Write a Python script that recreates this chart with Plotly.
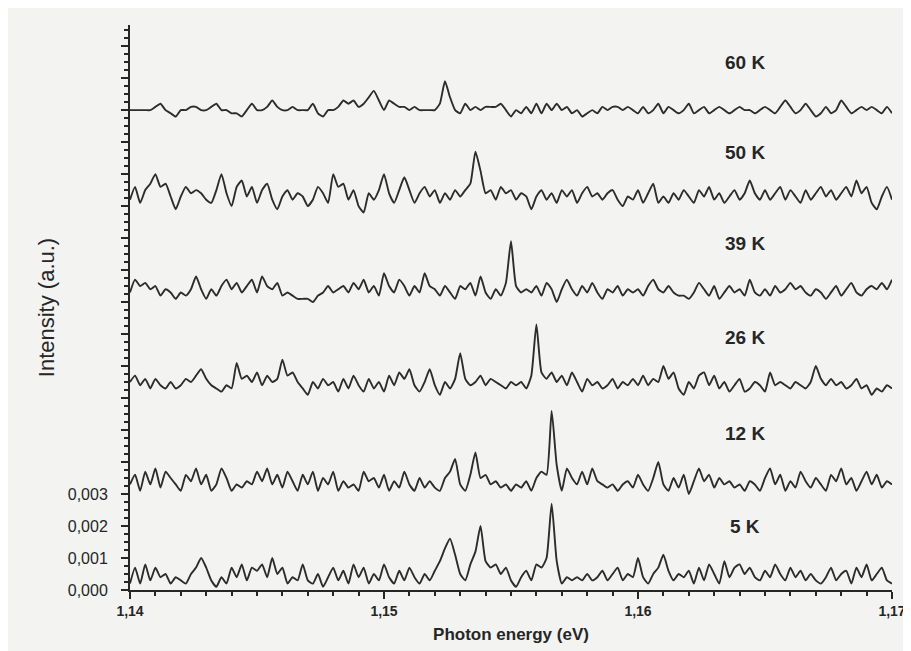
import numpy as np
import plotly.graph_objects as go

# Photon energy grid (eV), step 0.0002 eV
energy = np.round(1.14 + 0.0002 * np.arange(151), 4)

# Intensities in units of 1e-4 a.u. (curves vertically offset as in the figure)
i_60K = [150,150,150,150,150,151,152,150,149,148,150,150,151,151,150,150,151,152,150,150,
         149,149,148,150,152,150,150,151,153,151,150,150,151,150,150,150,152,149,148,150,
         150,151,153,152,153,151,152,154,156,153,150,153,152,151,151,150,151,150,150,150,
         150,152,159,154,150,149,152,150,151,150,151,151,151,152,150,148,150,149,151,149,
         152,149,152,150,152,150,151,149,150,148,149,150,149,151,150,151,151,150,151,150,
         149,151,149,150,152,149,151,150,149,150,152,149,150,151,149,150,151,150,149,150,
         151,150,150,149,150,151,150,149,151,153,151,149,150,152,150,148,149,151,149,150,
         153,151,149,150,151,150,151,150,149,151,149]
i_50K = [122,126,121,125,127,130,126,127,123,119,123,126,124,125,124,122,121,125,130,124,
         120,126,128,123,126,121,125,127,122,119,123,125,122,124,123,120,122,126,124,121,
         130,126,127,122,125,120,118,124,122,125,130,124,121,125,129,125,121,124,126,123,
         125,121,124,122,125,123,125,127,137,131,124,125,122,126,124,125,122,124,123,119,
         123,125,122,124,121,125,123,125,121,124,126,123,124,122,124,125,122,120,123,122,
         125,121,124,127,121,123,121,124,122,125,123,121,125,123,126,122,124,121,123,125,
         122,124,128,124,122,125,122,124,126,122,125,123,121,125,122,124,126,123,125,122,
         124,126,123,128,124,126,121,119,123,126,122]
i_39K = [93,97,95,96,94,95,92,94,93,91,93,92,94,98,94,91,94,92,95,97,
         94,96,93,95,97,93,98,95,94,96,92,93,92,91,91,91,90,92,93,95,
         93,94,95,93,96,94,97,93,95,92,99,95,93,97,95,92,95,93,99,95,
         94,92,95,93,91,95,94,96,92,98,93,91,94,92,96,109,95,93,94,93,
         95,92,96,94,90,94,97,94,92,95,93,96,93,91,94,93,95,92,94,93,
         94,92,95,97,94,93,95,93,92,92,91,93,96,94,92,95,91,93,95,93,
         94,92,97,93,92,94,92,95,93,94,96,94,95,93,92,94,93,91,93,95,
         92,94,96,93,92,94,95,94,96,94,97]
i_26K = [65,67,64,66,63,66,64,63,65,63,64,66,65,67,69,66,64,63,62,64,
         63,71,66,67,65,68,64,67,65,66,72,67,68,65,63,61,65,63,66,64,
         65,62,66,63,67,64,62,66,63,65,62,67,64,68,66,69,64,62,65,69,
         64,61,65,63,66,74,66,64,65,67,64,66,65,64,63,65,64,65,63,67,
         83,68,66,68,65,67,64,68,65,62,66,64,65,63,64,66,63,65,64,66,
         64,67,64,66,65,70,66,68,63,61,65,63,67,68,64,67,63,65,62,64,
         66,62,63,65,64,62,68,64,65,64,63,65,64,63,65,70,66,64,66,64,
         65,63,64,66,63,64,61,63,62,64,63]
i_12K = [33,36,31,37,33,38,32,37,35,33,31,36,34,38,33,36,31,33,38,35,
         31,33,32,34,33,37,34,38,33,36,32,37,34,31,36,33,37,31,35,33,
         37,31,34,32,33,31,37,34,35,32,36,31,34,32,37,33,31,35,32,34,
         32,31,35,37,41,33,31,36,43,35,36,33,34,32,33,31,33,32,34,31,
         35,37,36,56,39,31,38,35,33,37,33,38,34,33,32,33,31,33,34,32,
         36,33,31,35,40,33,31,35,32,36,30,34,38,34,36,32,35,33,34,32,
         33,31,34,33,31,35,38,33,36,31,34,32,37,34,32,35,33,31,36,34,
         38,33,35,31,34,37,33,36,32,34,33]
i_5K = [2,7,2,8,3,7,4,5,2,4,3,2,5,7,10,7,3,1,4,2,
        7,4,8,3,7,6,8,4,10,5,7,2,4,3,8,3,2,5,1,4,
        7,3,6,2,8,4,7,2,5,3,8,4,2,6,3,7,4,2,5,3,
        6,9,13,16,11,5,3,8,12,20,9,7,8,5,7,3,1,4,6,3,
        8,7,10,27,9,2,4,3,4,3,5,3,4,6,3,5,7,3,5,4,
        10,4,2,5,7,11,6,3,5,4,6,2,7,3,8,5,2,9,4,7,
        8,5,7,4,3,6,4,8,5,3,7,4,6,3,5,3,2,4,7,3,
        5,6,2,7,4,8,3,5,7,3,2]

temperatures = ["60 K", "50 K", "39 K", "26 K", "12 K", "5 K"]
spectra = [i_60K, i_50K, i_39K, i_26K, i_12K, i_5K]
label_y = [0.0165, 0.01369, 0.01084, 0.00788, 0.0049, 0.00197]

y_tickvals = [k * 0.001 for k in range(18)]
y_ticktext = ["0,000", "0,001", "0,002", "0,003"] + [""] * 14
x_tickvals = [1.14, 1.15, 1.16, 1.17]
x_ticktext = ["1,14", "1,15", "1,16", "1,17"]

FONT = "Liberation Sans, Arial, sans-serif"
BG = "#f3f3f1"
INK = "#262626"

fig = go.Figure()
for name, vals in zip(temperatures, spectra):
    fig.add_trace(go.Scatter(
        x=energy, y=np.array(vals) * 1e-4, mode="lines", name=name,
        line=dict(color="#2c2c2c", width=1.9, shape="spline", smoothing=0.5),
        showlegend=False))

for name, ly in zip(temperatures, label_y):
    fig.add_annotation(x=1.1642, y=ly, text="<b>%s</b>" % name, showarrow=False,
                       font=dict(family=FONT, size=19, color=INK), xanchor="center")

fig.update_layout(
    width=911, height=651,
    margin=dict(l=122, r=27, t=17, b=69),
    paper_bgcolor=BG, plot_bgcolor=BG,
    separators=",.",
    font=dict(family=FONT, color=INK),
)
fig.update_xaxes(
    range=[1.14, 1.17], tickvals=x_tickvals,
    ticktext=["<b>%s</b>" % t for t in x_ticktext],
    ticks="outside", ticklen=7, tickwidth=2, tickcolor=INK,
    minor=dict(dtick=0.001, ticks="outside", ticklen=4, tickwidth=1.5, tickcolor=INK),
    showline=True, linecolor=INK, linewidth=2, showgrid=False, zeroline=False,
    tickfont=dict(size=14, family=FONT, color=INK),
    title=dict(text="<b>Photon energy (eV)</b>", font=dict(size=17, family=FONT, color=INK), standoff=10),
)
fig.update_yaxes(
    range=[0, 0.01766], tickvals=y_tickvals, ticktext=y_ticktext,
    ticks="outside", ticklen=7, tickwidth=2, tickcolor=INK,
    minor=dict(dtick=0.00025, ticks="outside", ticklen=4, tickwidth=1.5, tickcolor=INK),
    showline=True, linecolor=INK, linewidth=2, showgrid=False, zeroline=False,
    tickfont=dict(size=16, family=FONT, color=INK), ticklabelstandoff=10,
    title=dict(text="Intensity (a.u.)", font=dict(size=22, family=FONT, color=INK), standoff=7),
)

fig.write_html("out.html")
